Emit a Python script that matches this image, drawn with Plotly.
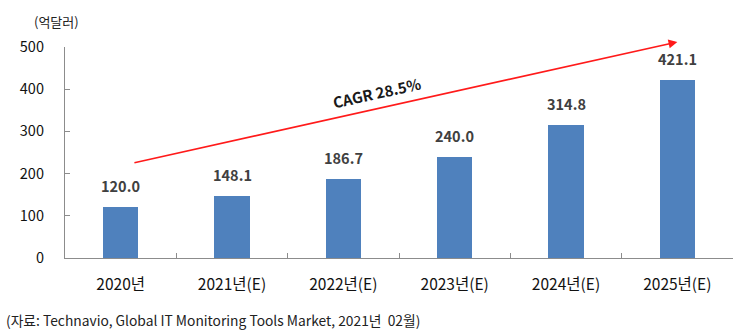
import plotly.graph_objects as go

# Market size by year (unit: 100 million USD)
years = ["2020년", "2021년(E)", "2022년(E)", "2023년(E)", "2024년(E)", "2025년(E)"]
values = [120.0, 148.1, 186.7, 240.0, 314.8, 421.1]
value_labels = ["120.0", "148.1", "186.7", "240.0", "314.8", "421.1"]
y_ticks = [0, 100, 200, 300, 400, 500]

FONT = "Noto Sans CJK KR"
BAR = "#4f81bd"
AXIS = "#8c8c8c"

fig = go.Figure()
fig.add_trace(go.Bar(
    x=years, y=values, marker=dict(color=BAR, line=dict(width=0)),
    width=0.32, hoverinfo="skip",
))

# Bold value labels above each bar
for cat, v, lab in zip(years, values, value_labels):
    fig.add_annotation(x=cat, y=v, text=f"<b>{lab}</b>", showarrow=False,
                       yanchor="bottom", yshift=9,
                       font=dict(family=FONT, size=14.5, color="#404040"))

# Growth arrow with CAGR label
fig.add_annotation(x=5.0, y=512, ax=0.11, ay=225, xref="x", yref="y",
                   axref="x", ayref="y", text="", showarrow=True,
                   arrowhead=2, arrowsize=1.1, arrowwidth=1.6, arrowcolor="#ff1a1a")
fig.add_annotation(x=2.3, y=392, xref="x", yref="y", text="<b>CAGR 28.5%</b>",
                   showarrow=False, textangle=-12.5,
                   font=dict(family=FONT, size=15, color="#1a1a1a"))

# Unit label and source note
fig.add_annotation(xref="paper", yref="paper", x=-0.049, y=1.12, xanchor="left",
                   yanchor="middle", text="(억달러)", showarrow=False,
                   font=dict(family=FONT, size=13, color="#222"))
fig.add_annotation(xref="paper", yref="paper", x=-0.092, y=-0.295, xanchor="left",
                   yanchor="middle",
                   text="(자료: Technavio, Global IT Monitoring Tools Market, 2021년  02월)",
                   showarrow=False, font=dict(family=FONT, size=13.8, color="#222"))

fig.update_layout(
    width=750, height=336, margin=dict(l=65, r=17, t=47, b=78),
    paper_bgcolor="white", plot_bgcolor="white", showlegend=False, bargap=0,
    font=dict(family=FONT, size=14, color="#111"),
    xaxis=dict(type="category", showline=True, linecolor=AXIS, linewidth=1.3,
               ticks="inside", tickson="boundaries", ticklen=5, tickcolor=AXIS,
               showgrid=False, tickfont=dict(size=15.5, color="#111"), ticklabelstandoff=12),
    yaxis=dict(range=[0, 500], tickvals=y_ticks, showline=True, linecolor=AXIS,
               linewidth=1.3, ticks="inside", ticklen=5, tickcolor=AXIS,
               showgrid=False, zeroline=False, tickfont=dict(size=14.5, color="#111"),
               ticklabelstandoff=17),
)

fig.write_html("out.html")
